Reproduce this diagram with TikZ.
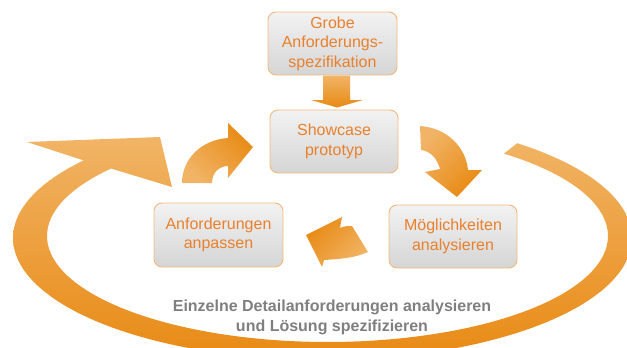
\documentclass[tikz,border=0pt]{standalone}
\usepackage{fontspec}
\setmainfont{Liberation Sans}
\definecolor{olight}{HTML}{F1B466}
\definecolor{odark}{HTML}{E88A14}
\definecolor{oborder}{HTML}{F5B77A}
\definecolor{otext}{HTML}{E8802C}
\definecolor{gtop}{HTML}{F2F2F2}
\definecolor{gbot}{HTML}{D5D5D5}
\definecolor{gtext}{HTML}{7F7F7F}
\tikzset{
  procbox/.style={draw=oborder, line width=0.9pt, rounded corners=8pt,
    top color=gtop, bottom color=gbot, text=otext, align=center,
    inner sep=0pt, font=\fontsize{16}{19.5}\selectfont},
  notetext/.style={text=gtext, align=center, inner sep=0pt,
    font=\bfseries\fontsize{16}{20}\selectfont}
}
\begin{document}
\begin{tikzpicture}[x=1pt,y=-1pt]
\useasboundingbox (0,0) rectangle (627,348);
\clip (0,0) rectangle (627,348);
% big ring arrow
\shade[top color=olight, bottom color=odark]
  plot[domain=-51:219.5, samples=120] ({322.5+309.5*cos(\x)},{238+122*sin(\x)})
  -- (27,142) -- (160,137) -- (172,187)
  -- plot[domain=219.5:-51, samples=120] ({327.5+280.5*cos(\x)},{236+106*sin(\x)})
  -- cycle;
% boxes
\node[procbox, minimum width=129pt, minimum height=63pt] (grobe) at (332.5,43.5) {Grobe\\Anforderungs-\\spezifikation};
\node[procbox, minimum width=128pt, minimum height=63pt] (show) at (334,141.5) {Showcase\\prototyp};
\node[procbox, minimum width=129pt, minimum height=64pt] (anf) at (218.5,235) {Anforderungen\\anpassen};
\node[procbox, minimum width=128pt, minimum height=63pt] (moeg) at (453,236.5) {Möglichkeiten\\analysieren};
% down arrow
\shade[top color=olight, bottom color=odark]
  (323,75.5) -- (350,75.5) -- (350,100) -- (363,100) -- (337,107.5) -- (311,100) -- (323,100) -- cycle;
% left curved arrow (anf -> show)
\shade[top color=odark, bottom color=olight, shading angle=-45]
  (182,183) .. controls (182,160) and (200,140) .. (228,138) -- (228,123) -- (253,147) -- (228,178)
  -- (228,166) .. controls (220,166) and (212,172) .. (212,183) -- cycle;
% right curved arrow (show -> moeg)
\shade[top color=olight, bottom color=odark, shading angle=45]
  (420,126) .. controls (448,128) and (466,148) .. (468,170) -- (482,170) -- (457,197) -- (425,172)
  -- (440,169) .. controls (437,158) and (430,151) .. (421,150) -- cycle;
% bottom curved arrow (moeg -> anf)
\shade[top color=odark, bottom color=olight, shading angle=45]
  (306,235) -- (342,217) -- (340,228) .. controls (344,226) and (348,226) .. (352,226)
  -- (368,252) .. controls (355,258) and (340,259) .. (324,260) -- (322,267) -- cycle;
% bottom text
\node[notetext] (note) at (332,317) {Einzelne Detailanforderungen analysieren\\und Lösung spezifizieren};
\end{tikzpicture}
\end{document}
